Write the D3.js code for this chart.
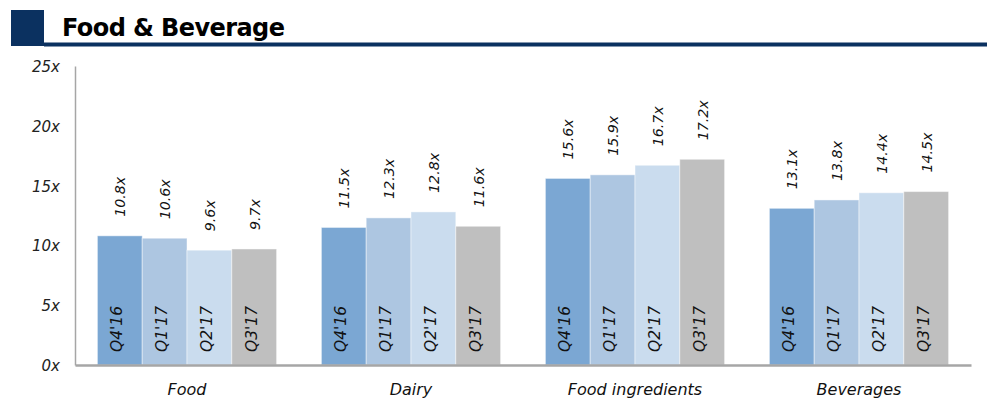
<!DOCTYPE html>
<html><head><meta charset="utf-8">
<script src="https://cdn.jsdelivr.net/npm/d3@7"></script>
<style>body{margin:0;background:#fff}svg{display:block}</style>
</head><body>
<svg id="c" width="987" height="399"></svg>
<script>
const title = "Food & Beverage";
const categories = ["Food", "Dairy", "Food ingredients", "Beverages"];
const quarters = ["Q4'16", "Q1'17", "Q2'17", "Q3'17"];
const q416 = [10.8, 11.5, 15.6, 13.1];
const q117 = [10.6, 12.3, 15.9, 13.8];
const q217 = [9.6, 12.8, 16.7, 14.4];
const q317 = [9.7, 11.6, 17.2, 14.5];
const yTicks = [0, 5, 10, 15, 20, 25];
const colors = ["#7BA7D3", "#ADC6E1", "#CADCEE", "#BFBFBF"];

const series = [q416, q117, q217, q317];
const rows = [];
categories.forEach((c, i) => quarters.forEach((q, j) => rows.push({cat: c, q, v: series[j][i], j})));

const svg = d3.select("#c");
const font = "'DejaVu Sans', Verdana, sans-serif";

// header
svg.append("rect").attr("x", 11).attr("y", 10).attr("width", 33).attr("height", 36).attr("fill", "#0B3160");
svg.append("rect").attr("x", 44).attr("y", 42.5).attr("width", 943).attr("height", 4).attr("fill", "#0B3160");
svg.append("text").attr("x", 62).attr("y", 36).text(title)
  .attr("font-family", font).attr("font-weight", "bold").attr("font-size", 24)
  .attr("textLength", 223).attr("lengthAdjust", "spacing").attr("fill", "#000");

const x0 = d3.scaleBand().domain(categories).range([75, 971]).paddingInner(0.2).paddingOuter(0.1);
const x1 = d3.scaleBand().domain(quarters).range([0, x0.bandwidth()]);
const y = d3.scaleLinear().domain([0, 25]).range([365, 66]);

// y axis
const ya = svg.append("g").attr("transform", "translate(75,0)")
  .call(d3.axisLeft(y).tickValues(yTicks).tickSize(0).tickFormat(d => d + "x").tickPadding(15));
ya.select(".domain").attr("stroke", "#A6A6A6").attr("stroke-width", 1.5);
ya.selectAll("text").attr("font-family", font).attr("font-style", "italic").attr("font-size", 15).attr("fill", "#222").attr("dy", "0.36em");

// bars
const g = svg.append("g");
g.selectAll("rect").data(rows).join("rect")
  .attr("x", d => x0(d.cat) + x1(d.q))
  .attr("y", d => y(d.v))
  .attr("width", x1.bandwidth())
  .attr("height", d => y(0) - y(d.v))
  .attr("fill", d => colors[d.j])
  .attr("stroke", "#ffffff").attr("stroke-opacity", 0.45).attr("stroke-width", 1);

// value labels
g.selectAll("text.val").data(rows).join("text").attr("class", "val")
  .attr("transform", d => `translate(${x0(d.cat) + x1(d.q) + x1.bandwidth() / 2 + 5.5},${y(d.v) - 19}) rotate(-90)`)
  .text(d => d.v.toFixed(1) + "x")
  .attr("font-family", font).attr("font-style", "italic").attr("font-size", 14.2).attr("fill", "#111");

// quarter labels in bars
g.selectAll("text.q").data(rows).join("text").attr("class", "q")
  .attr("transform", d => `translate(${x0(d.cat) + x1(d.q) + x1.bandwidth() / 2 + 2.5},${y(0) - 13}) rotate(-90)`)
  .text(d => d.q)
  .attr("font-family", font).attr("font-style", "italic").attr("font-size", 15.5).attr("fill", "#111");

// x axis
const xa = svg.append("g").attr("transform", `translate(0,${y(0)})`)
  .call(d3.axisBottom(x0).tickSize(0).tickPadding(19));
xa.select(".domain").attr("stroke", "#A6A6A6").attr("stroke-width", 2.5);
xa.selectAll("text").attr("font-family", font).attr("font-style", "italic").attr("font-size", 16).attr("fill", "#111");
</script>
</body></html>
